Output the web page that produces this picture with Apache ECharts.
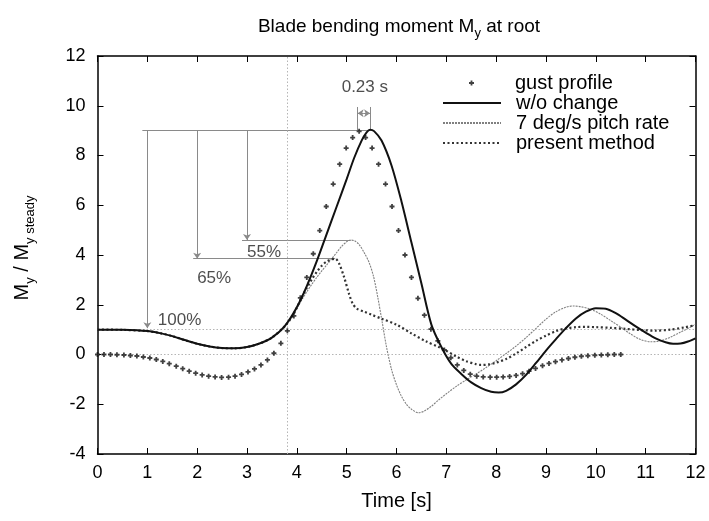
<!DOCTYPE html>
<html>
<head>
<meta charset="utf-8">
<script src="https://cdn.jsdelivr.net/npm/echarts@6/dist/echarts.min.js"></script>
<style>html,body{margin:0;padding:0;background:#fff}#c{width:709px;height:521px}</style>
</head>
<body>
<div id="c"></div>
<script>
// ---- data ----
const xTicks = [0,1,2,3,4,5,6,7,8,9,10,11,12];
const yTicks = [-4,-2,0,2,4,6,8,10,12];

const gustProfile = [
[0,0],[0.13,0],[0.26,0],[0.39,-0.01],[0.53,-0.02],[0.66,-0.04],[0.79,-0.06],[0.92,-0.1],[1.05,-0.14],[1.18,-0.2],
[1.31,-0.28],[1.44,-0.37],[1.58,-0.47],[1.71,-0.57],[1.84,-0.67],[1.97,-0.75],[2.1,-0.82],[2.23,-0.87],[2.36,-0.9],[2.49,-0.92],
[2.63,-0.91],[2.76,-0.87],[2.89,-0.8],[3.02,-0.7],[3.15,-0.58],[3.28,-0.42],[3.41,-0.22],[3.54,0.05],[3.68,0.45],[3.81,0.95],
[3.94,1.55],[4.07,2.28],[4.2,3.1],[4.33,4.05],[4.46,4.98],[4.59,5.95],[4.73,6.85],[4.86,7.65],[4.99,8.3],[5.12,8.72],
[5.25,8.97],[5.38,8.72],[5.51,8.3],[5.64,7.65],[5.78,6.85],[5.91,5.95],[6.04,4.98],[6.17,4.0],[6.3,3.1],[6.43,2.26],
[6.56,1.58],[6.69,1.02],[6.83,0.55],[6.96,0.18],[7.09,-0.13],[7.22,-0.42],[7.35,-0.64],[7.48,-0.79],[7.61,-0.87],[7.74,-0.9],
[7.88,-0.91],[8.01,-0.91],[8.14,-0.9],[8.27,-0.88],[8.4,-0.84],[8.53,-0.77],[8.66,-0.67],[8.79,-0.56],[8.93,-0.45],[9.06,-0.36],
[9.19,-0.29],[9.32,-0.22],[9.45,-0.16],[9.58,-0.11],[9.71,-0.07],[9.84,-0.05],[9.98,-0.03],[10.11,-0.02],[10.24,-0.01],[10.37,0],[10.5,0]
];

const withoutChange = [
[0,1],[0.5,0.99],[1,0.94],[1.25,0.86],[1.5,0.74],[1.75,0.58],[2,0.43],[2.25,0.32],[2.5,0.26],[2.75,0.25],
[3,0.3],[3.25,0.44],[3.5,0.68],[3.75,1.12],[4,1.9],[4.2,2.75],[4.4,3.75],[4.6,4.85],[4.8,5.95],[5,7.05],
[5.15,7.9],[5.3,8.6],[5.4,8.93],[5.47,9.04],[5.55,8.98],[5.7,8.6],[5.9,7.6],[6.1,6.15],[6.3,4.5],[6.5,2.85],
[6.7,1.2],[6.9,0.3],[7.1,-0.38],[7.3,-0.78],[7.5,-1.12],[7.7,-1.35],[7.9,-1.5],[8.05,-1.53],[8.2,-1.46],[8.4,-1.2],
[8.6,-0.82],[8.8,-0.34],[9,0.16],[9.2,0.62],[9.4,1.06],[9.6,1.45],[9.8,1.72],[10,1.86],[10.2,1.84],[10.4,1.66],
[10.6,1.4],[10.8,1.13],[11,0.88],[11.2,0.65],[11.4,0.49],[11.55,0.43],[11.7,0.44],[11.85,0.52],[12,0.65]
];

const pitchRate = [
[0,1],[0.5,0.99],[1,0.94],[1.25,0.86],[1.5,0.74],[1.75,0.58],[2,0.43],[2.25,0.32],[2.5,0.26],[2.75,0.25],
[3,0.3],[3.25,0.44],[3.5,0.68],[3.75,1.12],[3.9,1.5],[4,1.85],[4.1,2.2],[4.2,2.52],[4.3,2.82],[4.4,3.1],
[4.5,3.36],[4.6,3.6],[4.7,3.85],[4.8,4.1],[4.9,4.35],[5.0,4.53],[5.08,4.6],[5.16,4.57],[5.25,4.42],[5.35,4.1],
[5.45,3.7],[5.54,3.13],[5.62,2.35],[5.7,1.45],[5.8,0.3],[5.9,-0.6],[6.0,-1.22],[6.1,-1.68],[6.2,-2.0],[6.3,-2.2],
[6.44,-2.34],[6.55,-2.28],[6.7,-2.08],[6.85,-1.82],[7.0,-1.58],[7.2,-1.28],[7.4,-1.02],[7.6,-0.78],[7.8,-0.52],[8.0,-0.25],
[8.2,0.04],[8.4,0.34],[8.6,0.68],[8.8,1.05],[9.0,1.42],[9.2,1.72],[9.4,1.9],[9.55,1.95],[9.7,1.92],[9.9,1.82],
[10.1,1.62],[10.3,1.36],[10.5,1.1],[10.7,0.82],[10.9,0.6],[11.1,0.51],[11.3,0.55],[11.5,0.7],[11.7,0.9],[11.9,1.1],[12,1.22]
];

const presentMethod = [
[0,1],[0.5,0.99],[1,0.94],[1.25,0.86],[1.5,0.74],[1.75,0.58],[2,0.43],[2.25,0.32],[2.5,0.26],[2.75,0.25],
[3,0.3],[3.25,0.44],[3.5,0.68],[3.75,1.12],[3.9,1.5],[4.0,1.88],[4.1,2.3],[4.2,2.68],[4.3,3.02],[4.4,3.32],
[4.5,3.57],[4.6,3.74],[4.7,3.83],[4.77,3.85],[4.85,3.65],[4.95,3.1],[5.05,2.42],[5.12,2.05],[5.2,1.85],[5.35,1.72],
[5.5,1.6],[5.7,1.44],[6.0,1.2],[6.3,0.85],[6.6,0.52],[6.85,0.3],[7.0,0.15],[7.2,-0.08],[7.4,-0.27],[7.6,-0.39],
[7.7,-0.42],[7.85,-0.4],[8.0,-0.33],[8.2,-0.18],[8.4,0.04],[8.6,0.3],[8.8,0.55],[9.0,0.76],[9.2,0.94],[9.4,1.05],
[9.6,1.1],[9.8,1.11],[10.0,1.1],[10.3,1.07],[10.6,1.03],[10.9,0.98],[11.2,0.96],[11.5,1.0],[11.8,1.1],[12,1.18]
];

// reference (dotted) lines
const refYValues = [0, 1];
const refXValues = [3.8];

// annotation guide lines and arrows (data coordinates)
const guideLines = [
  [[0.9,9],[5.47,9]],
  [[1.92,3.85],[4.77,3.85]],
  [[2.9,4.6],[5.08,4.6]],
  [[5.22,9],[5.22,9.95]],
  [[5.47,9],[5.47,9.95]]
];
const guideArrows = [
  [[1,9],[1,1.06]],
  [[2,9],[2,3.85]],
  [[3,9],[3,4.6]],
  [[5.345,9.7],[5.22,9.7]],
  [[5.345,9.7],[5.47,9.7]]
];
const annotationLabels = [
  [1.21, 1.39, '100%'],
  [2.0, 3.07, '65%'],
  [3.0, 4.12, '55%'],
  [4.9, 10.75, '0.23 s']
];

const seriesNames = ['gust profile', 'w/o change', '7 deg/s pitch rate', 'present method'];

// ---- chart ----
const FONT = '"Liberation Sans", Arial, Helvetica, sans-serif';
const chart = echarts.init(document.getElementById('c'), null, {renderer: 'canvas'});

const axisCommon = {
  type: 'value',
  axisLine: {show: true, onZero: false, lineStyle: {color: '#000', width: 1.5}},
  axisTick: {show: true, inside: true, length: 6, lineStyle: {color: '#000', width: 1}},
  splitLine: {show: false}
};

const plusPath = 'path://M1.6,0H3.4V1.6H5V3.4H3.4V5H1.6V3.4H0V1.6H1.6Z';

const option = {
  backgroundColor: '#fff',
  animation: false,
  textStyle: {fontFamily: FONT},
  title: {
    text: 'Blade bending moment M{sub|y} at root',
    left: 394, top: 8, textAlign: 'center',
    textStyle: {
      fontFamily: FONT, fontSize: 19, fontWeight: 'normal', color: '#000',
      rich: {sub: {fontFamily: FONT, fontSize: 13, verticalAlign: 'bottom', lineHeight: 27, color: '#000'}}
    }
  },
  grid: {left: 97.5, right: 13.5, top: 56, bottom: 67, containLabel: false},
  legend: [
    {
      data: [seriesNames[0]],
      orient: 'vertical', left: 464, top: 68,
      itemWidth: 5, itemHeight: 5,
      textStyle: {fontFamily: FONT, fontSize: 20, lineHeight: 20, color: '#000', padding: [0,0,0,36]},
      selectedMode: false
    },
    {
      data: seriesNames.slice(1),
      orient: 'vertical', left: 437, top: 88,
      itemWidth: 58, itemHeight: 12, itemGap: 0,
      itemStyle: {opacity: 0},
      textStyle: {fontFamily: FONT, fontSize: 20, lineHeight: 20, color: '#000', padding: [0,0,0,10]},
      selectedMode: false
    }
  ],
  xAxis: [
    Object.assign({}, axisCommon, {
      min: 0, max: 12, interval: 1, position: 'bottom',
      axisLabel: {show: true, fontSize: 18, color: '#000', margin: 10, fontFamily: FONT,
        formatter: v => xTicks.includes(v) ? String(v) : ''},
      name: 'Time [s]', nameLocation: 'middle', nameGap: 37,
      nameTextStyle: {fontSize: 20, color: '#000', fontFamily: FONT}
    }),
    Object.assign({}, axisCommon, {
      min: 0, max: 12, interval: 1, position: 'top',
      axisLabel: {show: false}
    })
  ],
  yAxis: [
    Object.assign({}, axisCommon, {
      min: -4, max: 12, interval: 2, position: 'left',
      axisLabel: {show: true, fontSize: 18, color: '#000', margin: 12, fontFamily: FONT,
        formatter: v => yTicks.includes(v) ? String(v) : ''},
      name: 'M{sub|y} / M{sub|y steady}', nameLocation: 'middle', nameGap: 61, nameRotate: 90,
      nameTextStyle: {fontSize: 20, color: '#000', fontFamily: FONT, padding: [0, 0, 0, 14],
        rich: {sub: {fontFamily: FONT, fontSize: 13, verticalAlign: 'bottom', lineHeight: 28, color: '#000'}}}
    }),
    Object.assign({}, axisCommon, {
      min: -4, max: 12, interval: 2, position: 'right',
      axisLabel: {show: false}
    })
  ],
  series: [
    {
      name: 'refs', type: 'line', data: [], silent: true, z: 1,
      markLine: {
        silent: true, symbol: ['none', 'none'], label: {show: false},
        lineStyle: {color: '#b5b5b5', type: [1.5, 2], width: 1},
        data: refYValues.map(v => ({yAxis: v})).concat(refXValues.map(v => ({xAxis: v})))
      }
    },
    {
      name: 'guides', type: 'lines', coordinateSystem: 'cartesian2d', silent: true, z: 2,
      polyline: false, symbol: ['none', 'none'],
      lineStyle: {color: '#8a8a8a', width: 1, opacity: 1},
      data: guideLines.map(c => ({coords: c}))
    },
    {
      name: 'arrows', type: 'lines', coordinateSystem: 'cartesian2d', silent: true, z: 2,
      polyline: false, symbol: ['none', 'arrow'], symbolSize: 6,
      lineStyle: {color: '#8a8a8a', width: 1, opacity: 1},
      data: guideArrows.map(c => ({coords: c}))
    },
    {
      name: 'labels', type: 'scatter', silent: true, symbolSize: 0, z: 3,
      data: annotationLabels.map(a => ({value: [a[0], a[1]], name: a[2]})),
      label: {show: true, position: 'right', distance: 0, formatter: p => p.name,
        fontSize: 17, color: '#222', fontFamily: FONT}
    },
    {
      name: seriesNames[0], type: 'scatter', data: gustProfile,
      symbol: plusPath, symbolSize: 5, z: 5,
      itemStyle: {color: '#111'}
    },
    {
      name: seriesNames[1], type: 'line', data: withoutChange, symbol: 'none', smooth: 0.3, z: 6,
      lineStyle: {color: '#111', width: 2}, itemStyle: {color: '#111'}
    },
    {
      name: seriesNames[2], type: 'line', data: pitchRate, symbol: 'none', smooth: 0.3, z: 4,
      lineStyle: {color: '#808080', width: 1.1, type: [2, 1]}, itemStyle: {color: '#808080'}
    },
    {
      name: seriesNames[3], type: 'line', data: presentMethod, symbol: 'none', smooth: 0.3, z: 5,
      lineStyle: {color: '#333', width: 2.2, type: [2, 2.5]}, itemStyle: {color: '#333'}
    }
  ]
};
chart.setOption(option);
</script>
</body>
</html>
